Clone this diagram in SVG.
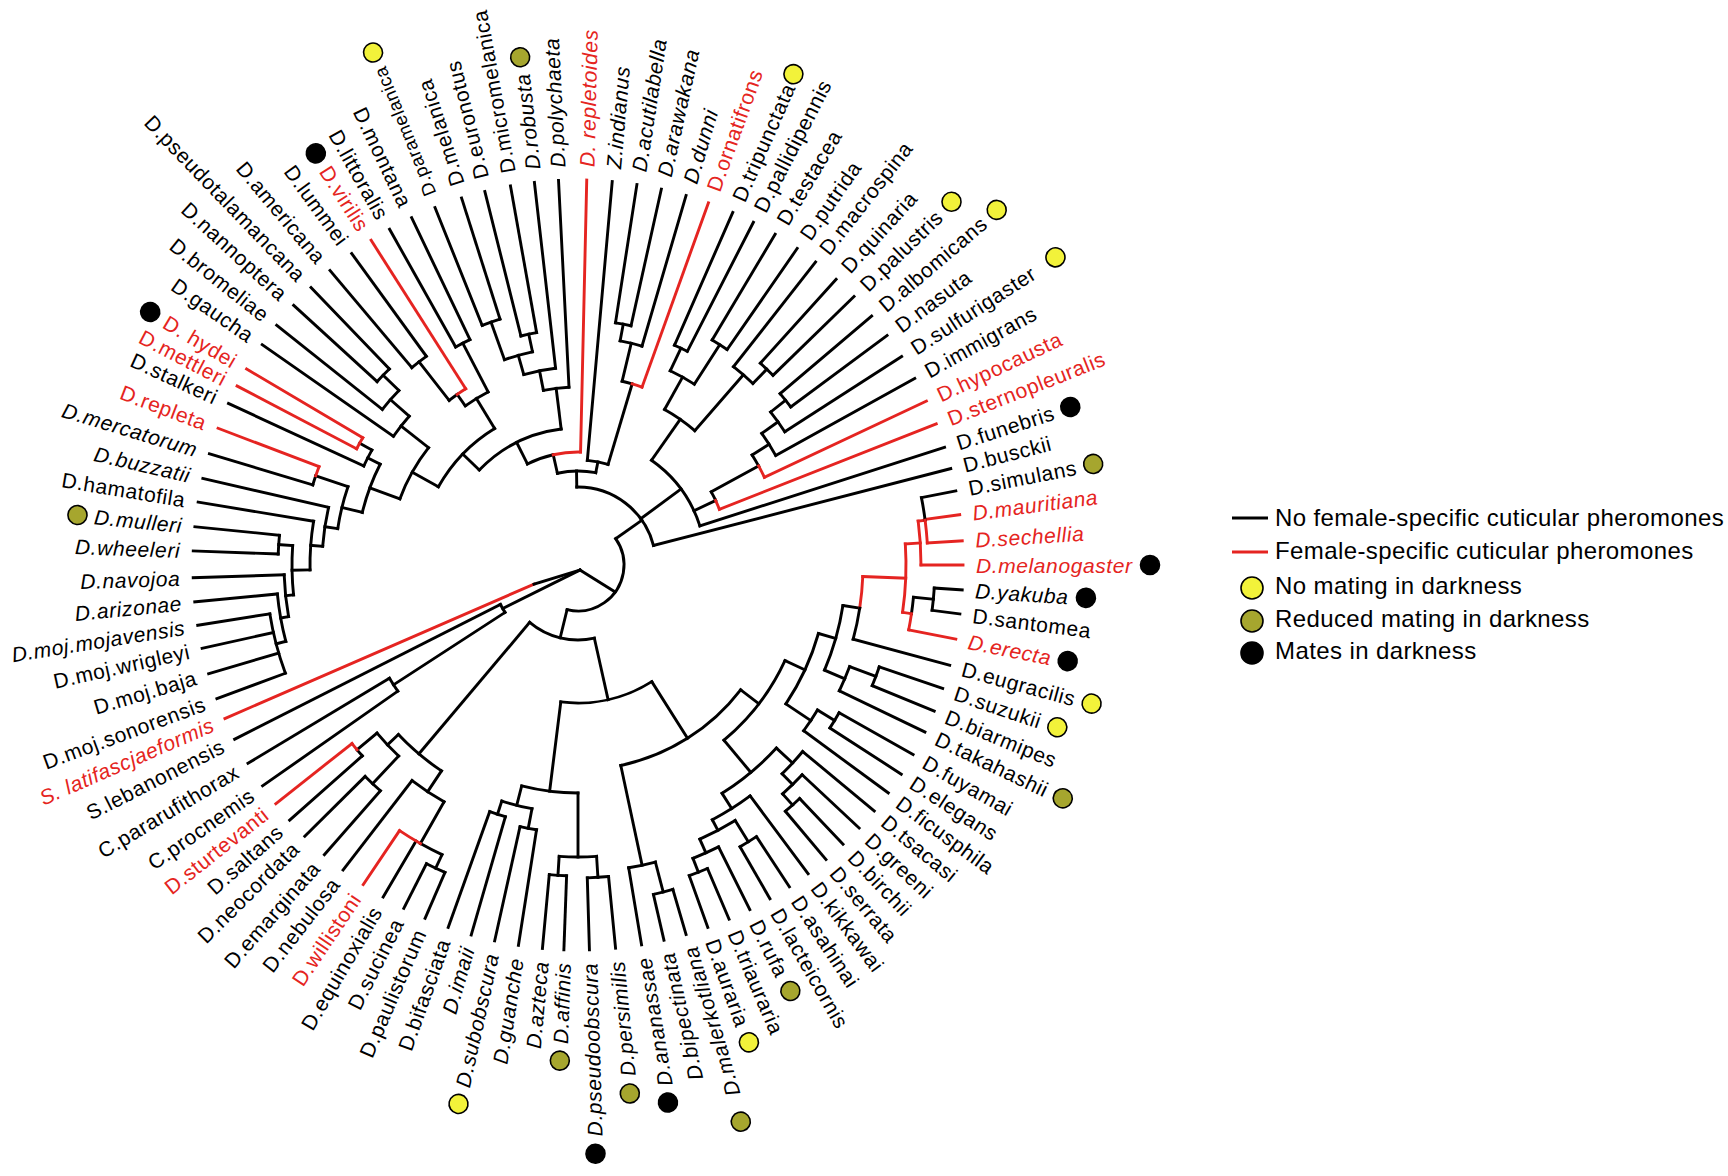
<svg xmlns="http://www.w3.org/2000/svg" width="1728" height="1176" viewBox="0 0 1728 1176">
<style>
.t{font-family:"Liberation Sans",Arial,Helvetica,sans-serif;font-size:21px;letter-spacing:0.6px;fill:#000}
.sm{font-size:18.5px}
.rt{fill:#e52421}
.it{font-style:italic}
.lg{font-family:"Liberation Sans",Arial,Helvetica,sans-serif;font-size:24px;letter-spacing:0.4px;fill:#000}
.re{stroke:#e52421}
.y{fill:#f2f23a;stroke:#000;stroke-width:1.6}
.o{fill:#a6a62e;stroke:#000;stroke-width:1.6}
.k{fill:#000;stroke:#000;stroke-width:1.6}
</style>
<rect width="1728" height="1176" fill="#fff"/>
<g id="connectors" transform="translate(578,565)" fill="none" stroke="#000" stroke-width="2.9" stroke-linecap="square">
<line x1="272" x2="385" transform="rotate(226.1)"/>
<line x1="258" x2="385" transform="rotate(229.9)"/>
<line x1="258" x2="385" transform="rotate(234)"/>
<line class="re" x1="209" x2="385" transform="rotate(237.5)"/>
<line x1="250" x2="385" transform="rotate(240.7)"/>
<line x1="250" x2="385" transform="rotate(244.4)"/>
<line x1="258" x2="385" transform="rotate(248.2)"/>
<line x1="258" x2="385" transform="rotate(252.4)"/>
<line x1="236" x2="385" transform="rotate(256)"/>
<line x1="236" x2="385" transform="rotate(259.9)"/>
<line x1="198" x2="385" transform="rotate(263.5)"/>
<line x1="178" x2="385" transform="rotate(267.1)"/>
<line class="re" x1="113" x2="385" transform="rotate(271.3)"/>
<line x1="105" x2="385" transform="rotate(275.1)"/>
<line x1="245" x2="385" transform="rotate(278.8)"/>
<line x1="245" x2="385" transform="rotate(282.5)"/>
<line x1="228" x2="385" transform="rotate(286.3)"/>
<line class="re" x1="189" x2="385" transform="rotate(289.8)"/>
<line x1="240" x2="385" transform="rotate(293.7)"/>
<line x1="240" x2="385" transform="rotate(297.1)"/>
<line x1="262" x2="385" transform="rotate(300.8)"/>
<line x1="262" x2="385" transform="rotate(304.7)"/>
<line x1="252" x2="385" transform="rotate(308.1)"/>
<line x1="272" x2="385" transform="rotate(312.1)"/>
<line x1="272" x2="385" transform="rotate(315.8)"/>
<line x1="265" x2="385" transform="rotate(319.7)"/>
<line x1="265" x2="385" transform="rotate(323.4)"/>
<line x1="246" x2="385" transform="rotate(327.2)"/>
<line x1="226" x2="385" transform="rotate(331)"/>
<line class="re" x1="206" x2="385" transform="rotate(334.8)"/>
<line class="re" x1="152" x2="385" transform="rotate(338.5)"/>
<line x1="128" x2="385" transform="rotate(342.2)"/>
<line x1="78" x2="385" transform="rotate(345.5)"/>
<line x1="350" x2="385" transform="rotate(-11.1)"/>
<line class="re" x1="350" x2="385" transform="rotate(-7.5)"/>
<line class="re" x1="350" x2="385" transform="rotate(-3.6)"/>
<line class="re" x1="343" x2="385" transform="rotate(0)"/>
<line x1="357" x2="385" transform="rotate(3.7)"/>
<line x1="357" x2="385" transform="rotate(7.3)"/>
<line class="re" x1="337" x2="385" transform="rotate(11.1)"/>
<line x1="285" x2="385" transform="rotate(15.1)"/>
<line x1="318" x2="385" transform="rotate(18.7)"/>
<line x1="318" x2="385" transform="rotate(22.3)"/>
<line x1="290" x2="385" transform="rotate(25.7)"/>
<line x1="300" x2="385" transform="rotate(29.5)"/>
<line x1="300" x2="385" transform="rotate(32.9)"/>
<line x1="280" x2="385" transform="rotate(36.3)"/>
<line x1="292" x2="385" transform="rotate(39.7)"/>
<line x1="307" x2="385" transform="rotate(43.1)"/>
<line x1="322" x2="385" transform="rotate(46.5)"/>
<line x1="322" x2="385" transform="rotate(49.9)"/>
<line x1="288" x2="385" transform="rotate(53.3)"/>
<line x1="325" x2="385" transform="rotate(56.7)"/>
<line x1="325" x2="385" transform="rotate(60.1)"/>
<line x1="315" x2="385" transform="rotate(63.5)"/>
<line x1="330" x2="385" transform="rotate(66.9)"/>
<line x1="330" x2="385" transform="rotate(70.3)"/>
<line x1="338" x2="385" transform="rotate(73.7)"/>
<line x1="338" x2="385" transform="rotate(77.1)"/>
<line x1="307" x2="385" transform="rotate(80.5)"/>
<line x1="313" x2="385" transform="rotate(84.4)"/>
<line x1="313" x2="385" transform="rotate(88.3)"/>
<line x1="311" x2="385" transform="rotate(92.1)"/>
<line x1="311" x2="385" transform="rotate(95.3)"/>
<line x1="268" x2="385" transform="rotate(98.9)"/>
<line x1="268" x2="385" transform="rotate(102.5)"/>
<line x1="262" x2="385" transform="rotate(106.1)"/>
<line x1="262" x2="385" transform="rotate(109.7)"/>
<line x1="335" x2="385" transform="rotate(113.4)"/>
<line x1="335" x2="385" transform="rotate(116.9)"/>
<line x1="320" x2="385" transform="rotate(120.4)"/>
<line class="re" x1="320" x2="385" transform="rotate(123.9)"/>
<line x1="272" x2="385" transform="rotate(127.6)"/>
<line x1="300" x2="385" transform="rotate(131.2)"/>
<line x1="300" x2="385" transform="rotate(135.2)"/>
<line x1="288" x2="385" transform="rotate(138.5)"/>
<line class="re" x1="288" x2="385" transform="rotate(141.7)"/>
<line x1="220" x2="385" transform="rotate(145)"/>
<line x1="220" x2="385" transform="rotate(149)"/>
<line x1="87" x2="385" transform="rotate(153.1)"/>
<line class="re" x1="48" x2="385" transform="rotate(156.5)"/>
<line x1="312" x2="385" transform="rotate(159.7)"/>
<line x1="312" x2="385" transform="rotate(163.6)"/>
<line x1="312" x2="385" transform="rotate(167.5)"/>
<line x1="312" x2="385" transform="rotate(171)"/>
<line x1="302" x2="385" transform="rotate(174.5)"/>
<line x1="294" x2="385" transform="rotate(178.1)"/>
<line x1="300" x2="385" transform="rotate(182.1)"/>
<line x1="300" x2="385" transform="rotate(185.7)"/>
<line x1="268" x2="385" transform="rotate(189.4)"/>
<line x1="256" x2="385" transform="rotate(193)"/>
<line x1="277" x2="385" transform="rotate(196.8)"/>
<line class="re" x1="277" x2="385" transform="rotate(200.8)"/>
<line x1="236" x2="385" transform="rotate(204.8)"/>
<line class="re" x1="250" x2="385" transform="rotate(207.7)"/>
<line class="re" x1="250" x2="385" transform="rotate(210.6)"/>
<line x1="225" x2="385" transform="rotate(214.9)"/>
<line x1="250" x2="385" transform="rotate(218.5)"/>
<line x1="272" x2="385" transform="rotate(222.4)"/>
<line class="re" x1="343" x2="350" transform="rotate(-7.35)"/>
<line class="re" x1="328" x2="343" transform="rotate(-3.675)"/>
<line x1="337" x2="357" transform="rotate(5.5)"/>
<line class="re" x1="328" x2="337" transform="rotate(8.3)"/>
<line class="re" x1="285" x2="328" transform="rotate(2.31)"/>
<line x1="268" x2="285" transform="rotate(8.7)"/>
<line x1="290" x2="318" transform="rotate(20.5)"/>
<line x1="268" x2="290" transform="rotate(23.1)"/>
<line x1="250" x2="268" transform="rotate(15.9)"/>
<line x1="280" x2="300" transform="rotate(31.2)"/>
<line x1="250" x2="280" transform="rotate(33.75)"/>
<line x1="228" x2="250" transform="rotate(24.8)"/>
<line x1="307" x2="322" transform="rotate(48.2)"/>
<line x1="292" x2="307" transform="rotate(45.65)"/>
<line x1="270" x2="292" transform="rotate(42.7)"/>
<line x1="315" x2="330" transform="rotate(68.6)"/>
<line x1="300" x2="315" transform="rotate(66.05)"/>
<line x1="300" x2="325" transform="rotate(58.4)"/>
<line x1="288" x2="300" transform="rotate(62.2)"/>
<line x1="270" x2="288" transform="rotate(57.75)"/>
<line x1="228" x2="270" transform="rotate(50.2)"/>
<line x1="205" x2="228" transform="rotate(37.5)"/>
<line x1="307" x2="338" transform="rotate(75.4)"/>
<line x1="205" x2="307" transform="rotate(77.95)"/>
<line x1="138" x2="205" transform="rotate(57.7)"/>
<line x1="292" x2="313" transform="rotate(86.35)"/>
<line x1="292" x2="311" transform="rotate(93.7)"/>
<line x1="228" x2="292" transform="rotate(90)"/>
<line x1="248" x2="268" transform="rotate(100.7)"/>
<line x1="248" x2="262" transform="rotate(107.9)"/>
<line x1="228" x2="248" transform="rotate(104.3)"/>
<line x1="138" x2="228" transform="rotate(97.15)"/>
<line x1="75" x2="138" transform="rotate(77.4)"/>
<line x1="320" x2="335" transform="rotate(115.15)"/>
<line x1="272" x2="320" transform="rotate(119.5)"/>
<line x1="247" x2="272" transform="rotate(123.55)"/>
<line x1="262" x2="300" transform="rotate(133.2)"/>
<line x1="262" x2="288" transform="rotate(140.1)"/>
<line x1="247" x2="262" transform="rotate(136.65)"/>
<line x1="75" x2="247" transform="rotate(130.1)"/>
<line x1="46" x2="75" transform="rotate(103.75)"/>
<line x1="87" x2="220" transform="rotate(147)"/>
<line x1="302" x2="312" transform="rotate(165.35)"/>
<line x1="294" x2="302" transform="rotate(169.9)"/>
<line x1="286" x2="294" transform="rotate(174)"/>
<line x1="286" x2="300" transform="rotate(183.9)"/>
<line x1="268" x2="286" transform="rotate(178.95)"/>
<line x1="256" x2="268" transform="rotate(184.2)"/>
<line x1="243" x2="256" transform="rotate(188.6)"/>
<line x1="243" x2="277" transform="rotate(198.8)"/>
<line x1="222" x2="243" transform="rotate(193.7)"/>
<line x1="236" x2="250" transform="rotate(209.15)"/>
<line x1="222" x2="236" transform="rotate(207)"/>
<line x1="190" x2="222" transform="rotate(200.35)"/>
<line x1="250" x2="272" transform="rotate(224.25)"/>
<line x1="225" x2="250" transform="rotate(221.4)"/>
<line x1="190" x2="225" transform="rotate(218.15)"/>
<line x1="160" x2="190" transform="rotate(209.25)"/>
<line x1="209" x2="258" transform="rotate(231.95)"/>
<line x1="195" x2="209" transform="rotate(234.7)"/>
<line x1="195" x2="250" transform="rotate(242.55)"/>
<line x1="160" x2="195" transform="rotate(238.6)"/>
<line x1="137" x2="160" transform="rotate(223.9)"/>
<line x1="218" x2="258" transform="rotate(250.3)"/>
<line x1="218" x2="236" transform="rotate(257.95)"/>
<line x1="198" x2="218" transform="rotate(254.1)"/>
<line x1="178" x2="198" transform="rotate(258.8)"/>
<line x1="137" x2="178" transform="rotate(262.95)"/>
<line x1="113" x2="137" transform="rotate(243.4)"/>
<line x1="94" x2="113" transform="rotate(257.35)"/>
<line x1="228" x2="245" transform="rotate(280.65)"/>
<line x1="189" x2="228" transform="rotate(283.5)"/>
<line x1="105" x2="189" transform="rotate(286.65)"/>
<line x1="94" x2="105" transform="rotate(280.9)"/>
<line x1="78" x2="94" transform="rotate(269.1)"/>
<line x1="215" x2="240" transform="rotate(295.4)"/>
<line x1="215" x2="262" transform="rotate(302.75)"/>
<line x1="178" x2="215" transform="rotate(299.1)"/>
<line x1="252" x2="272" transform="rotate(313.95)"/>
<line x1="178" x2="252" transform="rotate(311)"/>
<line x1="128" x2="178" transform="rotate(305.05)"/>
<line x1="246" x2="265" transform="rotate(321.55)"/>
<line x1="226" x2="246" transform="rotate(324.4)"/>
<line x1="206" x2="226" transform="rotate(327.7)"/>
<line x1="152" x2="206" transform="rotate(331.25)"/>
<line x1="128" x2="152" transform="rotate(334.9)"/>
<line x1="78" x2="128" transform="rotate(323.6)"/>
<line x1="46" x2="78" transform="rotate(325)"/>
<line x1="37.2" y1="27" x2="2" y2="5"/>
<line x1="-75.3" y1="43.5" x2="2" y2="5"/>
<line x1="-44" y1="19.1" x2="2" y2="5"/>
<circle pathLength="360" r="350" stroke-dasharray="3.75 360" transform="rotate(-11.1)"/>
<circle class="re" pathLength="360" r="350" stroke-dasharray="3.75 360" transform="rotate(-7.35)"/>
<circle class="re" pathLength="360" r="343" stroke-dasharray="7.35 360" transform="rotate(-7.35)"/>
<circle pathLength="360" r="357" stroke-dasharray="3.6 360" transform="rotate(3.7)"/>
<circle pathLength="360" r="337" stroke-dasharray="2.8 360" transform="rotate(5.5)"/>
<circle class="re" pathLength="360" r="337" stroke-dasharray="2.8 360" transform="rotate(8.3)"/>
<circle class="re" pathLength="360" r="328" stroke-dasharray="11.975 360" transform="rotate(-3.675)"/>
<circle class="re" pathLength="360" r="285" stroke-dasharray="6.39 360" transform="rotate(2.31)"/>
<circle pathLength="360" r="285" stroke-dasharray="6.4 360" transform="rotate(8.7)"/>
<circle pathLength="360" r="318" stroke-dasharray="3.6 360" transform="rotate(18.7)"/>
<circle pathLength="360" r="290" stroke-dasharray="5.2 360" transform="rotate(20.5)"/>
<circle pathLength="360" r="268" stroke-dasharray="14.4 360" transform="rotate(8.7)"/>
<circle pathLength="360" r="300" stroke-dasharray="3.4 360" transform="rotate(29.5)"/>
<circle pathLength="360" r="280" stroke-dasharray="5.1 360" transform="rotate(31.2)"/>
<circle pathLength="360" r="250" stroke-dasharray="17.85 360" transform="rotate(15.9)"/>
<circle pathLength="360" r="322" stroke-dasharray="3.4 360" transform="rotate(46.5)"/>
<circle pathLength="360" r="307" stroke-dasharray="5.1 360" transform="rotate(43.1)"/>
<circle pathLength="360" r="292" stroke-dasharray="5.95 360" transform="rotate(39.7)"/>
<circle pathLength="360" r="330" stroke-dasharray="3.4 360" transform="rotate(66.9)"/>
<circle pathLength="360" r="315" stroke-dasharray="5.1 360" transform="rotate(63.5)"/>
<circle pathLength="360" r="325" stroke-dasharray="3.4 360" transform="rotate(56.7)"/>
<circle pathLength="360" r="300" stroke-dasharray="7.65 360" transform="rotate(58.4)"/>
<circle pathLength="360" r="288" stroke-dasharray="8.9 360" transform="rotate(53.3)"/>
<circle pathLength="360" r="270" stroke-dasharray="15.05 360" transform="rotate(42.7)"/>
<circle pathLength="360" r="228" stroke-dasharray="25.4 360" transform="rotate(24.8)"/>
<circle pathLength="360" r="338" stroke-dasharray="3.4 360" transform="rotate(73.7)"/>
<circle pathLength="360" r="307" stroke-dasharray="5.1 360" transform="rotate(75.4)"/>
<circle pathLength="360" r="205" stroke-dasharray="40.45 360" transform="rotate(37.5)"/>
<circle pathLength="360" r="313" stroke-dasharray="3.9 360" transform="rotate(84.4)"/>
<circle pathLength="360" r="311" stroke-dasharray="3.2 360" transform="rotate(92.1)"/>
<circle pathLength="360" r="292" stroke-dasharray="7.35 360" transform="rotate(86.35)"/>
<circle pathLength="360" r="268" stroke-dasharray="3.6 360" transform="rotate(98.9)"/>
<circle pathLength="360" r="262" stroke-dasharray="3.6 360" transform="rotate(106.1)"/>
<circle pathLength="360" r="248" stroke-dasharray="7.2 360" transform="rotate(100.7)"/>
<circle pathLength="360" r="228" stroke-dasharray="14.3 360" transform="rotate(90)"/>
<circle pathLength="360" r="138" stroke-dasharray="39.45 360" transform="rotate(57.7)"/>
<circle pathLength="360" r="335" stroke-dasharray="3.5 360" transform="rotate(113.4)"/>
<circle pathLength="360" r="320" stroke-dasharray="4.35 360" transform="rotate(115.15)"/>
<circle class="re" pathLength="360" r="320" stroke-dasharray="4.4 360" transform="rotate(119.5)"/>
<circle pathLength="360" r="272" stroke-dasharray="8.1 360" transform="rotate(119.5)"/>
<circle pathLength="360" r="300" stroke-dasharray="4 360" transform="rotate(131.2)"/>
<circle pathLength="360" r="288" stroke-dasharray="1.6 360" transform="rotate(138.5)"/>
<circle class="re" pathLength="360" r="288" stroke-dasharray="1.6 360" transform="rotate(140.1)"/>
<circle pathLength="360" r="262" stroke-dasharray="6.9 360" transform="rotate(133.2)"/>
<circle pathLength="360" r="247" stroke-dasharray="13.1 360" transform="rotate(123.55)"/>
<circle pathLength="360" r="75" stroke-dasharray="52.7 360" transform="rotate(77.4)"/>
<circle pathLength="360" r="46" stroke-dasharray="138.75 360" transform="rotate(-35)"/>
<circle pathLength="360" r="220" stroke-dasharray="4 360" transform="rotate(145)"/>
<circle pathLength="360" r="87" stroke-dasharray="6.1 360" transform="rotate(147)"/>
<circle pathLength="360" r="312" stroke-dasharray="11.3 360" transform="rotate(159.7)"/>
<circle pathLength="360" r="302" stroke-dasharray="9.15 360" transform="rotate(165.35)"/>
<circle pathLength="360" r="294" stroke-dasharray="8.2 360" transform="rotate(169.9)"/>
<circle pathLength="360" r="300" stroke-dasharray="3.6 360" transform="rotate(182.1)"/>
<circle pathLength="360" r="286" stroke-dasharray="9.9 360" transform="rotate(174)"/>
<circle pathLength="360" r="268" stroke-dasharray="10.45 360" transform="rotate(178.95)"/>
<circle pathLength="360" r="256" stroke-dasharray="8.8 360" transform="rotate(184.2)"/>
<circle pathLength="360" r="277" stroke-dasharray="2 360" transform="rotate(196.8)"/>
<circle class="re" pathLength="360" r="277" stroke-dasharray="2 360" transform="rotate(198.8)"/>
<circle pathLength="360" r="243" stroke-dasharray="10.2 360" transform="rotate(188.6)"/>
<circle class="re" pathLength="360" r="250" stroke-dasharray="2.9 360" transform="rotate(207.7)"/>
<circle pathLength="360" r="236" stroke-dasharray="4.35 360" transform="rotate(204.8)"/>
<circle pathLength="360" r="222" stroke-dasharray="13.3 360" transform="rotate(193.7)"/>
<circle pathLength="360" r="272" stroke-dasharray="3.7 360" transform="rotate(222.4)"/>
<circle pathLength="360" r="250" stroke-dasharray="5.75 360" transform="rotate(218.5)"/>
<circle pathLength="360" r="225" stroke-dasharray="6.5 360" transform="rotate(214.9)"/>
<circle pathLength="360" r="190" stroke-dasharray="17.8 360" transform="rotate(200.35)"/>
<circle pathLength="360" r="258" stroke-dasharray="4.1 360" transform="rotate(229.9)"/>
<circle pathLength="360" r="209" stroke-dasharray="2.75 360" transform="rotate(231.95)"/>
<circle class="re" pathLength="360" r="209" stroke-dasharray="2.8 360" transform="rotate(234.7)"/>
<circle pathLength="360" r="250" stroke-dasharray="3.7 360" transform="rotate(240.7)"/>
<circle pathLength="360" r="195" stroke-dasharray="7.85 360" transform="rotate(234.7)"/>
<circle pathLength="360" r="160" stroke-dasharray="29.35 360" transform="rotate(209.25)"/>
<circle pathLength="360" r="258" stroke-dasharray="4.2 360" transform="rotate(248.2)"/>
<circle pathLength="360" r="236" stroke-dasharray="3.9 360" transform="rotate(256)"/>
<circle pathLength="360" r="218" stroke-dasharray="7.65 360" transform="rotate(250.3)"/>
<circle pathLength="360" r="198" stroke-dasharray="9.4 360" transform="rotate(254.1)"/>
<circle pathLength="360" r="178" stroke-dasharray="8.3 360" transform="rotate(258.8)"/>
<circle pathLength="360" r="137" stroke-dasharray="39.05 360" transform="rotate(223.9)"/>
<circle pathLength="360" r="113" stroke-dasharray="13.95 360" transform="rotate(243.4)"/>
<circle class="re" pathLength="360" r="113" stroke-dasharray="13.95 360" transform="rotate(257.35)"/>
<circle pathLength="360" r="245" stroke-dasharray="3.7 360" transform="rotate(278.8)"/>
<circle pathLength="360" r="228" stroke-dasharray="5.65 360" transform="rotate(280.65)"/>
<circle pathLength="360" r="189" stroke-dasharray="3.15 360" transform="rotate(283.5)"/>
<circle class="re" pathLength="360" r="189" stroke-dasharray="3.15 360" transform="rotate(286.65)"/>
<circle pathLength="360" r="105" stroke-dasharray="11.55 360" transform="rotate(275.1)"/>
<circle pathLength="360" r="94" stroke-dasharray="23.55 360" transform="rotate(257.35)"/>
<circle pathLength="360" r="240" stroke-dasharray="3.4 360" transform="rotate(293.7)"/>
<circle pathLength="360" r="262" stroke-dasharray="3.9 360" transform="rotate(300.8)"/>
<circle pathLength="360" r="215" stroke-dasharray="7.35 360" transform="rotate(295.4)"/>
<circle pathLength="360" r="272" stroke-dasharray="3.7 360" transform="rotate(312.1)"/>
<circle pathLength="360" r="252" stroke-dasharray="5.85 360" transform="rotate(308.1)"/>
<circle pathLength="360" r="178" stroke-dasharray="11.9 360" transform="rotate(299.1)"/>
<circle pathLength="360" r="265" stroke-dasharray="3.7 360" transform="rotate(319.7)"/>
<circle pathLength="360" r="246" stroke-dasharray="5.65 360" transform="rotate(321.55)"/>
<circle pathLength="360" r="226" stroke-dasharray="6.6 360" transform="rotate(324.4)"/>
<circle pathLength="360" r="206" stroke-dasharray="3.55 360" transform="rotate(327.7)"/>
<circle class="re" pathLength="360" r="206" stroke-dasharray="3.55 360" transform="rotate(331.25)"/>
<circle pathLength="360" r="152" stroke-dasharray="3.65 360" transform="rotate(331.25)"/>
<circle class="re" pathLength="360" r="152" stroke-dasharray="3.6 360" transform="rotate(334.9)"/>
<circle pathLength="360" r="128" stroke-dasharray="37.15 360" transform="rotate(305.05)"/>
<circle pathLength="360" r="78" stroke-dasharray="76.4 360" transform="rotate(269.1)"/>
</g>
<g id="labels" transform="translate(578,565)">
<g id="sp-pseudotalamancana" transform="rotate(46.1)"><text class="t" x="-398" dy=".36em" text-anchor="end">D.pseudotalamancana</text></g>
<g id="sp-americana" transform="rotate(49.9)"><text class="t" x="-398" dy=".36em" text-anchor="end">D.americana</text></g>
<g id="sp-lummei" transform="rotate(54)"><text class="t" x="-398" dy=".36em" text-anchor="end">D.lummei</text></g>
<g id="sp-virilis" transform="rotate(57.5)"><text class="t rt" x="-398" dy=".36em" text-anchor="end">D.virilis</text><circle class="k" cx="-488" r="9.5"/></g>
<g id="sp-littoralis" transform="rotate(60.7)"><text class="t" x="-398" dy=".36em" text-anchor="end">D.littoralis</text></g>
<g id="sp-montana" transform="rotate(64.4)"><text class="t" x="-398" dy=".36em" text-anchor="end">D.montana</text></g>
<g id="sp-paramelanica" transform="rotate(-111.8)"><text class="t sm" x="398" dy=".36em">D.paramelanica</text><circle class="y" cx="552" r="9.5"/></g>
<g id="sp-melanica" transform="rotate(-107.6)"><text class="t" x="398" dy=".36em">D.melanica</text></g>
<g id="sp-euronotus" transform="rotate(-104)"><text class="t" x="398" dy=".36em">D.euronotus</text></g>
<g id="sp-micromelanica" transform="rotate(-100.1)"><text class="t" x="398" dy=".36em">D.micromelanica</text></g>
<g id="sp-robusta" transform="rotate(-96.5)"><text class="t it" x="398" dy=".36em">D.robusta</text><circle class="o" cx="511" r="9.5"/></g>
<g id="sp-polychaeta" transform="rotate(-92.9)"><text class="t it" x="398" dy=".36em">D.polychaeta</text></g>
<g id="sp-repletoides" transform="rotate(-88.7)"><text class="t rt it" x="398" dy=".36em">D. repletoides</text></g>
<g id="sp-indianus" transform="rotate(-84.9)"><text class="t it" x="398" dy=".36em">Z.indianus</text></g>
<g id="sp-acutilabella" transform="rotate(-81.2)"><text class="t it" x="398" dy=".36em">D.acutilabella</text></g>
<g id="sp-arawakana" transform="rotate(-77.5)"><text class="t it" x="398" dy=".36em">D.arawakana</text></g>
<g id="sp-dunni" transform="rotate(-73.7)"><text class="t it" x="398" dy=".36em">D.dunni</text></g>
<g id="sp-ornatifrons" transform="rotate(-70.2)"><text class="t rt" x="398" dy=".36em">D.ornatifrons</text></g>
<g id="sp-tripunctata" transform="rotate(-66.3)"><text class="t" x="398" dy=".36em">D.tripunctata</text><circle class="y" cx="536" r="9.5"/></g>
<g id="sp-pallidipennis" transform="rotate(-62.9)"><text class="t" x="398" dy=".36em">D.pallidipennis</text></g>
<g id="sp-testacea" transform="rotate(-59.2)"><text class="t" x="398" dy=".36em">D.testacea</text></g>
<g id="sp-putrida" transform="rotate(-55.3)"><text class="t" x="398" dy=".36em">D.putrida</text></g>
<g id="sp-macrospina" transform="rotate(-51.9)"><text class="t" x="398" dy=".36em">D.macrospina</text></g>
<g id="sp-quinaria" transform="rotate(-47.9)"><text class="t" x="398" dy=".36em">D.quinaria</text></g>
<g id="sp-palustris" transform="rotate(-44.2)"><text class="t" x="398" dy=".36em">D.palustris</text><circle class="y" cx="521" r="9.5"/></g>
<g id="sp-albomicans" transform="rotate(-40.3)"><text class="t" x="398" dy=".36em">D.albomicans</text><circle class="y" cx="549" r="9.5"/></g>
<g id="sp-nasuta" transform="rotate(-36.6)"><text class="t" x="398" dy=".36em">D.nasuta</text></g>
<g id="sp-sulfurigaster" transform="rotate(-32.8)"><text class="t" x="398" dy=".36em">D.sulfurigaster</text><circle class="y" cx="568" r="9.5"/></g>
<g id="sp-immigrans" transform="rotate(-29)"><text class="t" x="398" dy=".36em">D.immigrans</text></g>
<g id="sp-hypocausta" transform="rotate(-25.2)"><text class="t rt" x="398" dy=".36em">D.hypocausta</text></g>
<g id="sp-sternopleuralis" transform="rotate(-21.5)"><text class="t rt" x="398" dy=".36em">D.sternopleuralis</text></g>
<g id="sp-funebris" transform="rotate(-17.8)"><text class="t" x="398" dy=".36em">D.funebris</text><circle class="k" cx="517" r="9.5"/></g>
<g id="sp-busckii" transform="rotate(-14.5)"><text class="t" x="398" dy=".36em">D.busckii</text></g>
<g id="sp-simulans" transform="rotate(-11.1)"><text class="t" x="398" dy=".36em">D.simulans</text><circle class="o" cx="525" r="9.5"/></g>
<g id="sp-mauritiana" transform="rotate(-7.5)"><text class="t rt it" x="398" dy=".36em">D.mauritiana</text></g>
<g id="sp-sechellia" transform="rotate(-3.6)"><text class="t rt it" x="398" dy=".36em">D.sechellia</text></g>
<g id="sp-melanogaster" transform="rotate(0)"><text class="t rt it" x="398" dy=".36em">D.melanogaster</text><circle class="k" cx="572" r="9.5"/></g>
<g id="sp-yakuba" transform="rotate(3.7)"><text class="t it" x="398" dy=".36em">D.yakuba</text><circle class="k" cx="509" r="9.5"/></g>
<g id="sp-santomea" transform="rotate(7.3)"><text class="t" x="398" dy=".36em">D.santomea</text></g>
<g id="sp-erecta" transform="rotate(11.1)"><text class="t rt it" x="398" dy=".36em">D.erecta</text><circle class="k" cx="499" r="9.5"/></g>
<g id="sp-eugracilis" transform="rotate(15.1)"><text class="t" x="398" dy=".36em">D.eugracilis</text><circle class="y" cx="532" r="9.5"/></g>
<g id="sp-suzukii" transform="rotate(18.7)"><text class="t" x="398" dy=".36em">D.suzukii</text><circle class="y" cx="506" r="9.5"/></g>
<g id="sp-biarmipes" transform="rotate(22.3)"><text class="t" x="398" dy=".36em">D.biarmipes</text></g>
<g id="sp-takahashii" transform="rotate(25.7)"><text class="t" x="398" dy=".36em">D.takahashii</text><circle class="o" cx="538" r="9.5"/></g>
<g id="sp-fuyamai" transform="rotate(29.5)"><text class="t" x="398" dy=".36em">D.fuyamai</text></g>
<g id="sp-elegans" transform="rotate(32.9)"><text class="t" x="398" dy=".36em">D.elegans</text></g>
<g id="sp-ficusphila" transform="rotate(36.3)"><text class="t" x="398" dy=".36em">D.ficusphila</text></g>
<g id="sp-tsacasi" transform="rotate(39.7)"><text class="t" x="398" dy=".36em">D.tsacasi</text></g>
<g id="sp-greeni" transform="rotate(43.1)"><text class="t" x="398" dy=".36em">D.greeni</text></g>
<g id="sp-birchii" transform="rotate(46.5)"><text class="t" x="398" dy=".36em">D.birchii</text></g>
<g id="sp-serrata" transform="rotate(49.9)"><text class="t" x="398" dy=".36em">D.serrata</text></g>
<g id="sp-kikkawai" transform="rotate(53.3)"><text class="t" x="398" dy=".36em">D.kikkawai</text></g>
<g id="sp-asahinai" transform="rotate(56.7)"><text class="t" x="398" dy=".36em">D.asahinai</text></g>
<g id="sp-lacteicornis" transform="rotate(60.1)"><text class="t" x="398" dy=".36em">D.lacteicornis</text></g>
<g id="sp-rufa" transform="rotate(63.5)"><text class="t" x="398" dy=".36em">D.rufa</text><circle class="o" cx="476" r="9.5"/></g>
<g id="sp-triauraria" transform="rotate(66.9)"><text class="t" x="398" dy=".36em">D.triauraria</text></g>
<g id="sp-auraria" transform="rotate(70.3)"><text class="t" x="398" dy=".36em">D.auraria</text><circle class="y" cx="507" r="9.5"/></g>
<g id="sp-malerkotliana" transform="rotate(-106.3)"><text class="t it" x="-398" dy=".36em" text-anchor="end">D.malerkotliana</text><circle class="o" cx="-580" r="9.5"/></g>
<g id="sp-bipectinata" transform="rotate(-102.9)"><text class="t it" x="-398" dy=".36em" text-anchor="end">D.bipectinata</text></g>
<g id="sp-ananassae" transform="rotate(-99.5)"><text class="t it" x="-398" dy=".36em" text-anchor="end">D.ananassae</text><circle class="k" cx="-545" r="9.5"/></g>
<g id="sp-persimilis" transform="rotate(-95.6)"><text class="t it" x="-398" dy=".36em" text-anchor="end">D.persimilis</text><circle class="o" cx="-531" r="9.5"/></g>
<g id="sp-pseudoobscura" transform="rotate(-91.7)"><text class="t it" x="-398" dy=".36em" text-anchor="end">D.pseudoobscura</text><circle class="k" cx="-589" r="9.5"/></g>
<g id="sp-affinis" transform="rotate(-87.9)"><text class="t it" x="-398" dy=".36em" text-anchor="end">D.affinis</text><circle class="o" cx="-496" r="9.5"/></g>
<g id="sp-azteca" transform="rotate(-84.7)"><text class="t it" x="-398" dy=".36em" text-anchor="end">D.azteca</text></g>
<g id="sp-guanche" transform="rotate(-81.1)"><text class="t it" x="-398" dy=".36em" text-anchor="end">D.guanche</text></g>
<g id="sp-subobscura" transform="rotate(-77.5)"><text class="t it" x="-398" dy=".36em" text-anchor="end">D.subobscura</text><circle class="y" cx="-552" r="9.5"/></g>
<g id="sp-imaii" transform="rotate(-73.9)"><text class="t it" x="-398" dy=".36em" text-anchor="end">D.imaii</text></g>
<g id="sp-bifasciata" transform="rotate(-70.3)"><text class="t" x="-398" dy=".36em" text-anchor="end">D.bifasciata</text></g>
<g id="sp-paulistorum" transform="rotate(-66.6)"><text class="t" x="-398" dy=".36em" text-anchor="end">D.paulistorum</text></g>
<g id="sp-sucinea" transform="rotate(-63.1)"><text class="t" x="-398" dy=".36em" text-anchor="end">D.sucinea</text></g>
<g id="sp-equinoxialis" transform="rotate(-59.6)"><text class="t" x="-398" dy=".36em" text-anchor="end">D.equinoxialis</text></g>
<g id="sp-willistoni" transform="rotate(-56.1)"><text class="t rt" x="-398" dy=".36em" text-anchor="end">D.willistoni</text></g>
<g id="sp-nebulosa" transform="rotate(-52.4)"><text class="t" x="-398" dy=".36em" text-anchor="end">D.nebulosa</text></g>
<g id="sp-emarginata" transform="rotate(-48.8)"><text class="t" x="-398" dy=".36em" text-anchor="end">D.emarginata</text></g>
<g id="sp-neocordata" transform="rotate(-44.8)"><text class="t" x="-398" dy=".36em" text-anchor="end">D.neocordata</text></g>
<g id="sp-saltans" transform="rotate(-41.5)"><text class="t" x="-398" dy=".36em" text-anchor="end">D.saltans</text></g>
<g id="sp-sturtevanti" transform="rotate(-38.3)"><text class="t rt" x="-398" dy=".36em" text-anchor="end">D.sturtevanti</text></g>
<g id="sp-procnemis" transform="rotate(-35)"><text class="t" x="-398" dy=".36em" text-anchor="end">C.procnemis</text></g>
<g id="sp-pararufithorax" transform="rotate(-31)"><text class="t" x="-398" dy=".36em" text-anchor="end">C.pararufithorax</text></g>
<g id="sp-lebanonensis" transform="rotate(-26.9)"><text class="t" x="-398" dy=".36em" text-anchor="end">S.lebanonensis</text></g>
<g id="sp-latifascjaeformis" transform="rotate(-23.5)"><text class="t rt it" x="-398" dy=".36em" text-anchor="end">S. latifascjaeformis</text></g>
<g id="sp-sonorensis" transform="rotate(-20.3)"><text class="t" x="-398" dy=".36em" text-anchor="end">D.moj.sonorensis</text></g>
<g id="sp-baja" transform="rotate(-16.4)"><text class="t" x="-398" dy=".36em" text-anchor="end">D.moj.baja</text></g>
<g id="sp-wrigleyi" transform="rotate(-12.5)"><text class="t" x="-398" dy=".36em" text-anchor="end">D.moj.wrigleyi</text></g>
<g id="sp-mojavensis" transform="rotate(-9)"><text class="t it" x="-398" dy=".36em" text-anchor="end">D.moj.mojavensis</text></g>
<g id="sp-arizonae" transform="rotate(-5.5)"><text class="t it" x="-398" dy=".36em" text-anchor="end">D.arizonae</text></g>
<g id="sp-navojoa" transform="rotate(-1.9)"><text class="t it" x="-398" dy=".36em" text-anchor="end">D.navojoa</text></g>
<g id="sp-wheeleri" transform="rotate(2.1)"><text class="t it" x="-398" dy=".36em" text-anchor="end">D.wheeleri</text></g>
<g id="sp-mulleri" transform="rotate(5.7)"><text class="t it" x="-398" dy=".36em" text-anchor="end">D.mulleri</text><circle class="o" cx="-503" r="9.5"/></g>
<g id="sp-hamatofila" transform="rotate(9.4)"><text class="t" x="-398" dy=".36em" text-anchor="end">D.hamatofila</text></g>
<g id="sp-buzzatii" transform="rotate(13)"><text class="t it" x="-398" dy=".36em" text-anchor="end">D.buzzatii</text></g>
<g id="sp-mercatorum" transform="rotate(16.8)"><text class="t it" x="-398" dy=".36em" text-anchor="end">D.mercatorum</text></g>
<g id="sp-repleta" transform="rotate(20.8)"><text class="t rt" x="-398" dy=".36em" text-anchor="end">D.repleta</text></g>
<g id="sp-stalkeri" transform="rotate(24.8)"><text class="t" x="-398" dy=".36em" text-anchor="end">D.stalkeri</text></g>
<g id="sp-mettleri" transform="rotate(27.7)"><text class="t rt" x="-398" dy=".36em" text-anchor="end">D.mettleri</text></g>
<g id="sp-hydei" transform="rotate(30.6)"><text class="t rt" x="-398" dy=".36em" text-anchor="end">D. hydei</text><circle class="k" cx="-497" r="9.5"/></g>
<g id="sp-gaucha" transform="rotate(34.9)"><text class="t" x="-398" dy=".36em" text-anchor="end">D.gaucha</text></g>
<g id="sp-bromeliae" transform="rotate(38.5)"><text class="t" x="-398" dy=".36em" text-anchor="end">D.bromeliae</text></g>
<g id="sp-nannoptera" transform="rotate(42.4)"><text class="t" x="-398" dy=".36em" text-anchor="end">D.nannoptera</text></g>
</g>
<g id="legend">
<line x1="1232" y1="518" x2="1268" y2="518" stroke="#000" stroke-width="3"/>
<text class="lg" x="1275" y="526">No female-specific cuticular pheromones</text>
<line x1="1232" y1="552" x2="1268" y2="552" stroke="#e52421" stroke-width="3"/>
<text class="lg rt" x="1275" y="559">Female-specific cuticular pheromones</text>
<circle class="y" cx="1252" cy="588" r="11"/>
<text class="lg" x="1275" y="594">No mating in darkness</text>
<circle class="o" cx="1252" cy="621" r="11"/>
<text class="lg" x="1275" y="627">Reduced mating in darkness</text>
<circle class="k" cx="1252" cy="653" r="11"/>
<text class="lg" x="1275" y="659">Mates in darkness</text>
</g>
</svg>
